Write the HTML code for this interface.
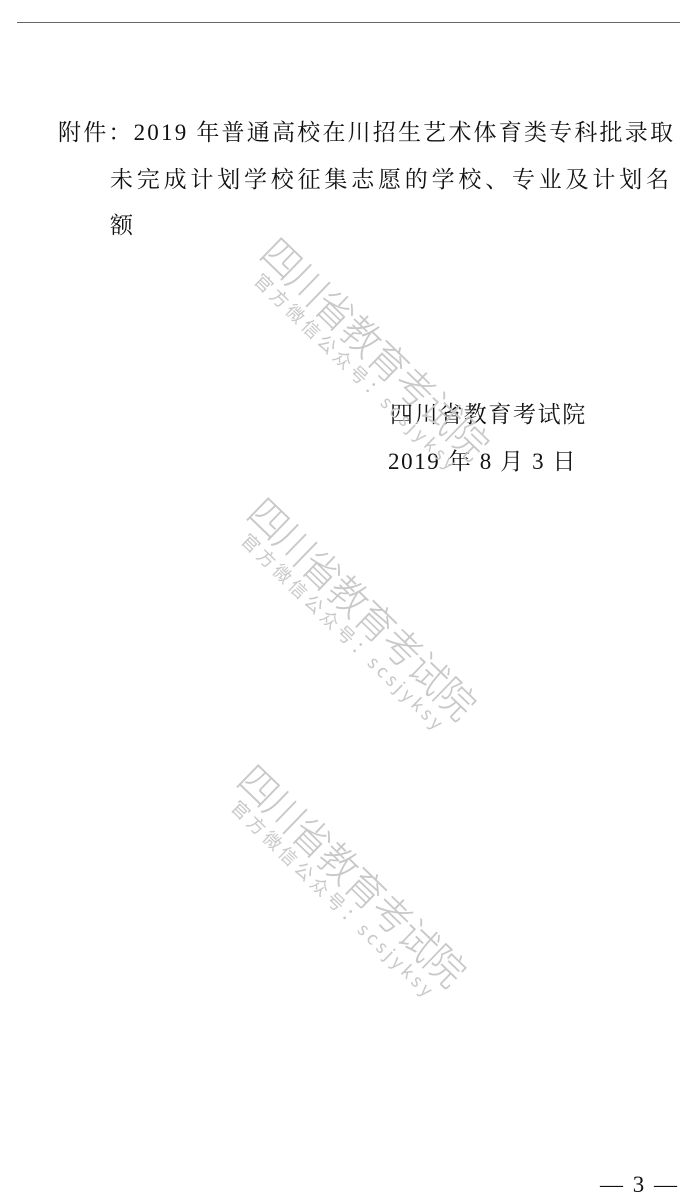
<!DOCTYPE html>
<html><head><meta charset="utf-8"><style>
body{margin:0;width:680px;height:1200px;background:#fff;position:relative;overflow:hidden;font-family:"Liberation Serif","Noto Serif CJK SC",serif;color:#111}
.hr{position:absolute;left:17px;top:22px;width:663px;height:1px;background:#666}
.t{position:absolute;font-size:23px;white-space:nowrap;letter-spacing:1.6px}
.wm{position:absolute;transform:rotate(44deg);transform-origin:0 0;color:#c8c8c8;white-space:nowrap;font-family:"Noto Sans CJK SC",sans-serif}
.wm .b{font-size:40px;font-weight:300;letter-spacing:-1px;transform:scaleX(0.95);transform-origin:0 0;line-height:44px}
.wm .s{font-size:18px;letter-spacing:4px;margin-left:14px;line-height:20px}
</style></head><body>
<div class="hr"></div>
<div class="t" style="left:58px;top:114px;letter-spacing:2.2px">附件：2019 年普通高校在川招生艺术体育类专科批录取</div>
<div class="t" style="left:110px;top:161px;letter-spacing:3.8px">未完成计划学校征集志愿的学校、专业及计划名</div>
<div class="t" style="left:110px;top:207px">额</div>
<div class="t" style="left:390px;top:396px">四川省教育考试院</div>
<div class="t" style="left:388px;top:443px">2019 年 8 月 3 日</div>
<div class="t" style="left:600px;top:1172px;letter-spacing:0;word-spacing:4px">— 3 —</div>
<div class="wm" style="left:285px;top:228px"><div class="b">四川省教育考试院</div><div class="s">官方微信公众号：scsjyksy</div></div>
<div class="wm" style="left:272px;top:488px"><div class="b">四川省教育考试院</div><div class="s">官方微信公众号：scsjyksy</div></div>
<div class="wm" style="left:262px;top:755px"><div class="b">四川省教育考试院</div><div class="s">官方微信公众号：scsjyksy</div></div>
</body></html>
